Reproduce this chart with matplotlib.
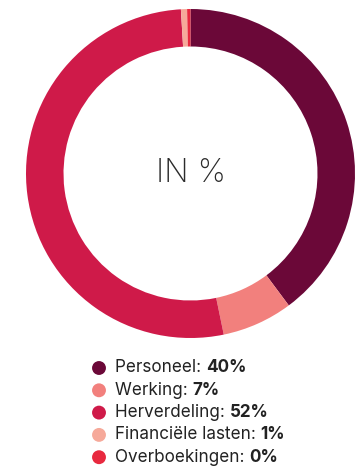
import matplotlib
matplotlib.use('Agg')
import matplotlib.pyplot as plt

# begroting in %
labels = ['Personeel', 'Werking', 'Herverdeling', 'Financiële lasten', 'Overboekingen']
shares = [39.8, 6.95, 52.3, 0.6, 0.33]
shown = ['40%', '7%', '52%', '1%', '0%']
colors = ['#6b0838', '#f2807d', '#cf1a49', '#f6a99a', '#e8293f']

W, H = 362, 467
fig = plt.figure(figsize=(W / 100, H / 100), dpi=100)
plt.rcParams['font.family'] = ['Inter', 'DejaVu Sans']

# donut
cx, cy, r = 190.5, 173.5, 164.5
ax = fig.add_axes([(cx - r) / W, (H - cy - r) / H, 2 * r / W, 2 * r / H])
ax.pie(shares, colors=colors, startangle=90, counterclock=False, radius=1,
       wedgeprops=dict(width=0.228, edgecolor='none', linewidth=0))
ax.set_xlim(-1, 1)
ax.set_ylim(-1, 1)
ax.axis('off')
ax.text(0, 0, 'IN %', ha='center', va='center', fontsize=23, fontweight='light',
        color='#2b2b2b')

# legend drawn by hand
lg = fig.add_axes([0, 0, 1, 1])
lg.set_xlim(0, W)
lg.set_ylim(H, 0)
lg.axis('off')
y0, step = 368, 22.3
for i, (lab, val, col) in enumerate(zip(labels, shown, colors)):
    y = y0 + i * step
    lg.scatter([99], [y], s=100, color=col, edgecolors='none')
    t = lg.text(115, y, lab + ': ', va='center', ha='left', fontsize=12.3, color='#222222')
    lg.annotate(val, xy=(1, 0.5), xycoords=t, va='center', ha='left',
                fontsize=12.3, fontweight='bold', color='#222222')

fig.savefig('out.png', dpi=100)
